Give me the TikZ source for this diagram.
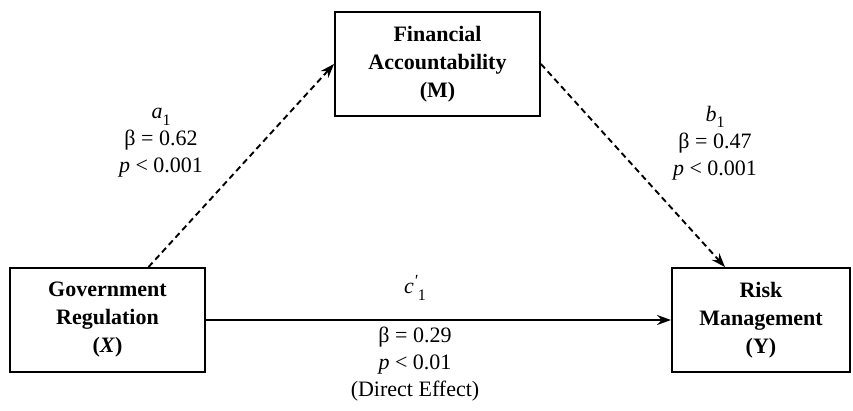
\documentclass[tikz,border=0pt]{standalone}
\usepackage{fontspec}
\setmainfont{Liberation Serif}
\usetikzlibrary{arrows.meta,calc}
\newcommand{\lowsub}[1]{\raisebox{-0.3em}{\fontsize{16}{16}\selectfont #1}}
\begin{document}
\begin{tikzpicture}[x=1pt,y=-1pt,
  varbox/.style={draw,line width=1.9pt,align=center,inner sep=0pt,
    font=\fontsize{22}{28}\selectfont\bfseries},
  lbl/.style={align=center,inner sep=0pt,font=\fontsize{22}{27}\selectfont},
  path/.style={line width=1.9pt,-{Stealth[length=14pt,width=10pt]}},
  indirect/.style={path,dash pattern=on 6pt off 4pt}]
\useasboundingbox (0,0) rectangle (853,410);
\node[varbox,minimum width=205,minimum height=104] (M) at (437.5,64)
  {Financial\\Accountability\\(M)};
\node[varbox,minimum width=195,minimum height=104] (X) at (107.5,320)
  {Government\\Regulation\\(\textit{X})};
\node[varbox,minimum width=178,minimum height=104] (Y) at (761,320)
  {Risk\\Management\\(Y)};
\coordinate (Xa) at ($(X.north)+(41,0)$);
\coordinate (Yb) at ($(Y.north)+(-36,0)$);
\draw[indirect] (Xa) -- (M.west);
\draw[indirect] (M.east) -- (Yb);
\draw[path] (X.east) -- (Y.west);
\node[lbl] (la) at (161,143) {\textit{a}\lowsub{1}\\β = 0.62\\\textit{p} < 0.001};
\node[lbl] (lb) at (715,143) {\textit{b}\lowsub{1}\\β = 0.47\\\textit{p} < 0.001};
\node[lbl] (lc) at (415,288) {\textit{c}\raisebox{0.32em}{\fontsize{17}{17}\selectfont\textit{\textquotesingle}}\lowsub{1}};
\node[lbl] (ld) at (415,364) {β = 0.29\\\textit{p} < 0.01\\(Direct Effect)};
\end{tikzpicture}
\end{document}
